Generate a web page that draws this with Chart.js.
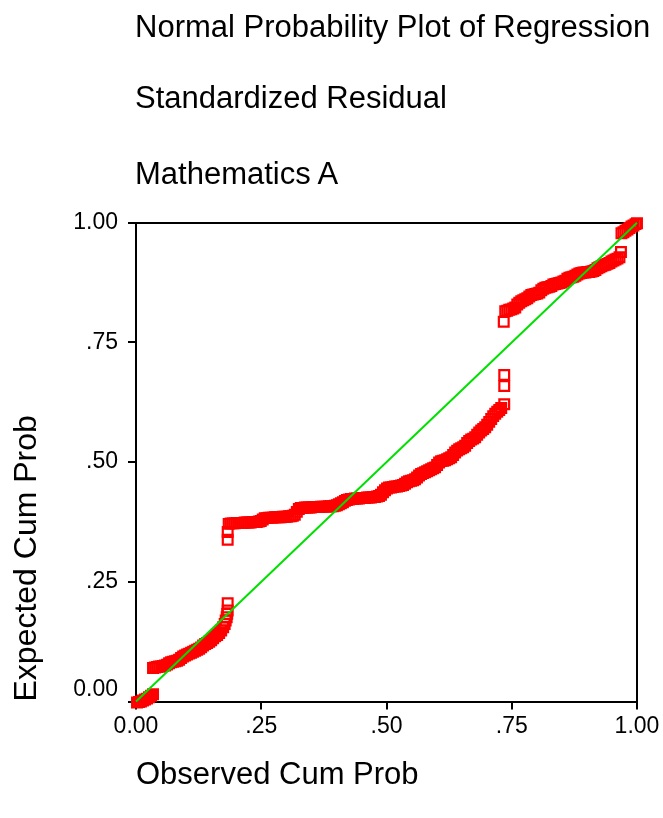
<!DOCTYPE html>
<html>
<head>
<meta charset="utf-8">
<script src="https://cdn.jsdelivr.net/npm/chart.js@4"></script>
<style>
  html, body { margin: 0; padding: 0; background: #ffffff; }
  #wrap { position: relative; width: 663px; height: 818px; }
  canvas { display: block; position: absolute; left: 0; top: 0; }
  .ttl { position: absolute; left: 135px; height: 36px; line-height: 36px; font-family: 'Liberation Sans', Arial, sans-serif;
         font-size: 31px; color: #000; white-space: nowrap; }
</style>
</head>
<body>
<div id="wrap">
  <canvas id="c" width="663" height="818"></canvas>
</div>
<script>
// ---- data ----
const titleLines = ['Normal Probability Plot of Regression', 'Standardized Residual', 'Mathematics A'];
const xTitle = 'Observed Cum Prob';
const yTitle = 'Expected Cum Prob';

const tickValues = [0, 0.25, 0.5, 0.75, 1];
const tickLabels = ['0.00', '.25', '.50', '.75', '1.00'];

const refX = [0, 1];
const refY = [0, 1];

const observedCumProb = [
  // lowest cluster
  0.002,0.006,0.010,0.014,0.018,0.022,0.026,0.030,0.034,
  // first rising band
  0.034,0.038,0.042,0.046,0.050,0.054,0.058,0.062,0.066,0.070,0.074,0.078,0.082,0.086,0.090,0.094,0.098,0.102,0.106,0.110,
  0.114,0.118,0.122,0.126,0.130,0.134,0.138,0.142,0.146,0.150,0.154,0.158,0.162,0.166,0.170,0.174,0.177,0.179,0.181,0.182,0.183,
  0.183,
  // isolated points after the first jump
  0.183,0.183,
  // long middle band
  0.185,0.189,0.193,0.197,0.201,0.205,0.209,0.213,0.217,0.221,0.225,0.229,0.233,0.237,0.241,0.245,0.249,
  0.253,0.257,0.261,0.265,0.269,0.273,0.277,0.281,0.285,0.289,0.293,0.297,0.301,0.305,0.309,0.313,0.317,
  0.321,0.325,0.329,0.333,0.337,0.341,0.345,0.349,0.353,0.357,0.361,0.365,0.369,0.373,0.377,0.381,0.385,0.389,0.393,0.397,
  0.401,0.405,0.409,0.413,0.417,
  0.421,0.425,0.429,0.433,0.437,0.441,0.445,0.449,0.453,0.457,0.461,0.465,0.469,0.473,0.477,0.481,0.485,
  0.489,0.493,0.497,0.501,
  0.505,0.509,0.513,0.517,0.521,0.525,0.529,0.533,
  0.537,0.541,0.545,0.549,0.553,0.557,
  0.561,0.565,0.569,0.573,0.577,0.581,0.585,0.589,0.593,0.597,
  0.601,0.605,0.609,0.613,0.617,0.621,0.625,0.629,
  0.633,0.637,0.641,0.645,0.649,0.653,0.657,
  0.661,0.665,0.669,0.673,0.677,
  0.681,0.685,0.689,0.693,0.697,
  0.701,0.705,0.709,0.713,0.717,0.721,0.725,0.729,
  // isolated points before the second jump
  0.735,0.735,0.735,
  0.734,
  // upper band
  0.737,0.741,0.745,0.749,0.753,0.757,0.761,0.765,0.769,0.773,0.777,0.781,0.785,0.789,0.793,0.797,0.801,0.805,0.809,0.813,
  0.817,0.821,0.825,0.829,0.833,0.837,0.841,0.845,0.849,0.853,0.857,0.861,0.865,0.869,0.873,0.877,0.881,0.885,0.889,0.893,
  0.897,0.901,0.905,0.909,0.913,0.917,0.921,0.925,0.929,0.933,0.937,0.941,0.945,0.949,0.953,0.957,0.961,0.965,
  0.968,
  // top cluster
  0.969,0.973,0.977,0.981,0.985,0.989,0.993,0.997,1.000
];
const expectedCumProb = [
  -0.002,-0.001,0.000,0.002,0.004,0.006,0.009,0.012,0.015,
  0.070,0.071,0.072,0.073,0.073,0.074,0.075,0.077,0.080,0.082,0.083,0.084,0.085,0.087,0.091,0.094,0.096,0.098,0.100,0.102,
  0.104,0.106,0.108,0.110,0.113,0.117,0.120,0.122,0.125,0.128,0.132,0.136,0.139,0.143,0.148,0.155,0.162,0.169,0.176,0.183,0.190,
  0.205,
  0.338,0.354,
  0.371,0.372,0.372,0.372,0.373,0.373,0.373,0.373,0.374,0.374,0.374,0.374,0.375,0.375,0.375,0.376,0.377,
  0.380,0.383,0.383,0.384,0.384,0.384,0.385,0.385,0.385,0.385,0.386,0.386,0.386,0.387,0.387,0.388,0.390,
  0.396,0.402,0.404,0.404,0.405,0.405,0.405,0.405,0.406,0.406,0.406,0.406,0.407,0.407,0.407,0.407,0.408,0.408,0.408,0.409,
  0.410,0.412,0.414,0.416,0.419,
  0.421,0.422,0.423,0.423,0.424,0.424,0.424,0.425,0.425,0.425,0.426,0.426,0.426,0.427,0.427,0.428,0.429,
  0.432,0.437,0.441,0.445,
  0.447,0.447,0.448,0.449,0.449,0.450,0.451,0.452,
  0.455,0.458,0.460,0.461,0.462,0.464,
  0.468,0.472,0.475,0.477,0.479,0.481,0.483,0.485,0.487,0.489,
  0.494,0.499,0.502,0.503,0.504,0.506,0.508,0.510,
  0.515,0.520,0.524,0.527,0.529,0.531,0.534,
  0.540,0.544,0.547,0.549,0.552,
  0.557,0.562,0.566,0.569,0.573,
  0.578,0.584,0.590,0.596,0.601,0.605,0.609,0.613,
  0.621,0.659,0.682,
  0.793,
  0.815,0.816,0.818,0.819,0.821,0.823,0.829,0.833,0.836,0.838,0.840,0.842,0.846,0.849,0.850,0.851,0.852,0.854,0.859,0.862,
  0.864,0.865,0.866,0.868,0.871,0.872,0.873,0.874,0.875,0.877,0.879,0.883,0.885,0.886,0.887,0.889,0.892,0.894,0.895,0.896,
  0.896,0.897,0.897,0.898,0.899,0.901,0.905,0.907,0.909,0.911,0.912,0.914,0.916,0.919,0.921,0.923,0.925,0.928,
  0.939,
  0.978,0.980,0.983,0.986,0.989,0.992,0.994,0.997,0.999
];

// ---- titles (real text, placed above the plot) ----
const titleTops = [9, 80, 156];
const wrap = document.getElementById('wrap');
titleLines.forEach((t, i) => {
  const d = document.createElement('div');
  d.className = 'ttl';
  d.style.top = titleTops[i] + 'px';
  d.textContent = t;
  wrap.appendChild(d);
});

// ---- chart ----
const FONT = 'Liberation Sans, Arial, sans-serif';
const points = observedCumProb.map((x, i) => ({ x: x, y: expectedCumProb[i] }));
const refLine = refX.map((x, i) => ({ x: x, y: refY[i] }));
const setTicks = (scale) => { scale.ticks = tickValues.map(v => ({ value: v })); };

new Chart(document.getElementById('c'), {
  type: 'scatter',
  data: {
    datasets: [
      {
        data: refLine,
        showLine: true,
        borderColor: '#00e000',
        borderWidth: 2,
        pointRadius: 0,
        fill: false,
        clip: false
      },
      {
        data: points,
        pointStyle: 'rect',
        pointRadius: 6.9,
        pointBorderWidth: 2.2,
        borderColor: '#ff0000',
        backgroundColor: 'rgba(0,0,0,0)',
        clip: false
      }
    ]
  },
  options: {
    responsive: false,
    animation: false,
    events: [],
    layout: { padding: { left: 0, right: 26, top: 222.7, bottom: 0 } },
    plugins: {
      legend: { display: false },
      tooltip: { enabled: false },
      title: { display: false }
    },
    scales: {
      x: {
        type: 'linear',
        position: 'bottom',
        min: 0, max: 1,
        afterBuildTicks: setTicks,
        afterFit: (s) => { s.height = 116.5; },
        grid: { display: true, drawOnChartArea: false, drawTicks: true, tickLength: 8, tickWidth: 2, tickColor: '#000', color: '#000', lineWidth: 2 },
        border: { display: true, color: '#000', width: 2 },
        ticks: {
          color: '#000', padding: 3, maxRotation: 0, autoSkip: false,
          font: { family: FONT, size: 23 },
          callback: (v, i) => tickLabels[i]
        },
        title: {
          display: true, text: xTitle, align: 'start', color: '#000',
          font: { family: FONT, size: 31 },
          padding: { top: 0, bottom: 24 }
        }
      },
      y: {
        type: 'linear',
        position: 'left',
        min: 0, max: 1,
        afterBuildTicks: setTicks,
        afterFit: (s) => { s.width = 136; },
        grid: { display: true, drawOnChartArea: false, drawTicks: true, tickLength: 8, tickWidth: 2, tickColor: '#000', color: '#000', lineWidth: 2 },
        border: { display: true, color: '#000', width: 2 },
        ticks: {
          color: '#000', padding: 10, autoSkip: false,
          font: { family: FONT, size: 23, lineHeight: 1.05 },
          callback: (v, i) => (i === 0 ? [tickLabels[i], ''] : tickLabels[i])
        },
        title: {
          display: true, text: yTitle, align: 'start', color: '#000',
          font: { family: FONT, size: 32 },
          padding: { top: 8, bottom: 0 }
        }
      },
      x2: {
        type: 'linear', position: 'top', min: 0, max: 1,
        afterFit: (s) => { s.height = 0; },
        ticks: { display: false },
        grid: { display: false, drawTicks: false },
        border: { display: true, color: '#000', width: 2 }
      },
      y2: {
        type: 'linear', position: 'right', min: 0, max: 1,
        afterFit: (s) => { s.width = 0; },
        ticks: { display: false },
        grid: { display: false, drawTicks: false },
        border: { display: true, color: '#000', width: 2 }
      }
    }
  }
});
</script>
</body>
</html>
